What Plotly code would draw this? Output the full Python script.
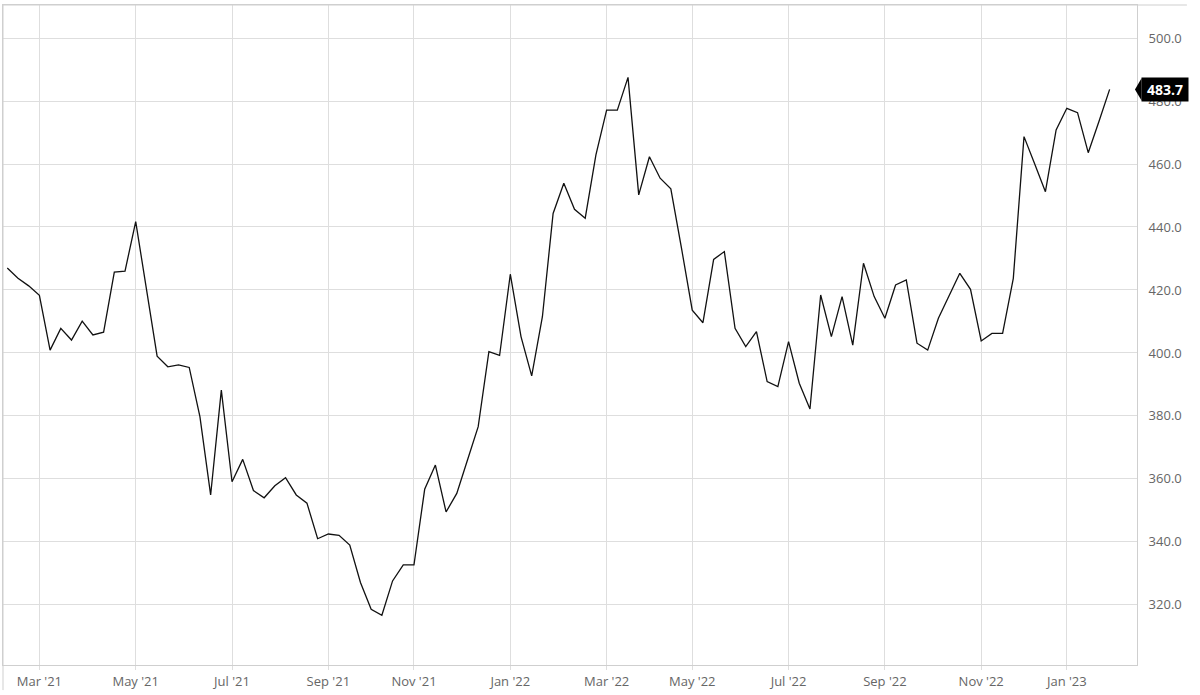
import pandas as pd
import plotly.graph_objects as go

# --------------------------------------------------
# Data (weekly closes)
# --------------------------------------------------

dates = pd.date_range("2021-02-08", periods=104, freq="7D")

values = [
    427.0, 423.7, 421.3, 418.3, 400.9, 407.8, 404.1, 410.1, 405.7, 406.6,
    425.7, 426.0, 441.7, 420.6, 399.0, 395.6, 396.2, 395.4, 379.8, 354.9,
    388.2, 359.1, 366.2, 356.3, 354.0, 357.8, 360.4, 354.9, 352.3, 341.0,
    342.5, 342.1, 339.0, 327.1, 318.6, 316.7, 327.6, 332.7, 332.7, 356.7,
    364.4, 349.5, 355.4, 366.0, 376.6, 400.4, 399.2, 425.0, 405.2, 392.7,
    411.5, 444.3, 453.9, 445.6, 442.8, 462.9, 477.1, 477.1, 487.5, 450.2,
    462.3, 455.5, 452.1, 433.2, 413.6, 409.6, 429.7, 432.2, 407.8, 402.0,
    406.8, 390.9, 389.3, 403.6, 390.4, 382.2, 418.4, 405.2, 417.9, 402.5,
    428.5, 417.9, 411.0, 421.6, 423.2, 403.1, 400.9, 411.0, 418.1, 425.3,
    420.2, 403.8, 406.2, 406.2, 423.7, 468.7, 460.0, 451.2, 470.8, 477.7,
    476.3, 463.6, 473.5, 483.7,
]

tick_dates = [
    "2021-03-01", "2021-05-03", "2021-07-05", "2021-09-06", "2021-11-01",
    "2022-01-03", "2022-03-07", "2022-05-02", "2022-07-04", "2022-09-05",
    "2022-11-07", "2023-01-02",
]
tick_labels = [
    "Mar '21", "May '21", "Jul '21", "Sep '21", "Nov '21", "Jan '22",
    "Mar '22", "May '22", "Jul '22", "Sep '22", "Nov '22", "Jan '23",
]
y_ticks = [320, 340, 360, 380, 400, 420, 440, 460, 480, 500]

last_value = values[-1]

GRID = "#dedede"
AXIS = "#cfcfcf"

# --------------------------------------------------
# Figure
# --------------------------------------------------

fig = go.Figure(
    go.Scatter(
        x=dates,
        y=values,
        mode="lines",
        line=dict(color="#111111", width=1.3),
        hoverinfo="x+y",
    )
)

# Last-value flag on the right axis
fig.add_shape(
    type="path",
    xref="paper",
    yref="y",
    path=(
        f"M 0.9982 {last_value} L 1.0040 {last_value + 3.5} "
        f"L 1.0040 {last_value - 3.5} Z"
    ),
    fillcolor="black",
    line=dict(width=0),
    layer="above",
)
fig.add_annotation(
    x=1.0035,
    y=last_value,
    xref="paper",
    yref="y",
    text=f"<b>{last_value:.1f}</b>",
    showarrow=False,
    xanchor="left",
    yanchor="middle",
    width=44,
    height=21,
    bgcolor="black",
    font=dict(color="white", size=14, family="Open Sans"),
)

# Frame lines running past the plot area
fig.add_shape(
    type="line", xref="paper", yref="paper",
    x0=0, x1=1.044, y0=1, y1=1,
    line=dict(color=AXIS, width=1),
)
fig.add_shape(
    type="line", xref="paper", yref="paper",
    x0=0, x1=0, y0=1, y1=-0.038,
    line=dict(color=AXIS, width=1),
)

fig.update_layout(
    width=1200,
    height=695,
    showlegend=False,
    margin=dict(l=3, r=63, t=5, b=30),
    plot_bgcolor="white",
    paper_bgcolor="white",
    font=dict(family="Open Sans", size=13, color="#666666"),
)

fig.update_xaxes(
    range=[dates[0] - pd.Timedelta(days=2.8), dates[-1] + pd.Timedelta(days=17.9)],
    tickvals=tick_dates,
    ticktext=tick_labels,
    ticks="outside",
    ticklen=4,
    tickcolor=GRID,
    showgrid=True,
    gridcolor=GRID,
    gridwidth=1,
    showline=True,
    linecolor=AXIS,
    mirror=True,
    zeroline=False,
    tickfont=dict(size=13, color="#666666"),
)

fig.update_yaxes(
    side="right",
    range=[300.9, 510.5],
    tickvals=y_ticks,
    tickformat=".1f",
    ticks="outside",
    ticklen=8,
    tickcolor="rgba(0,0,0,0)",
    showgrid=True,
    gridcolor=GRID,
    gridwidth=1,
    showline=True,
    linecolor=AXIS,
    mirror=True,
    zeroline=False,
    tickfont=dict(size=13, color="#666666"),
)

# page body has a default 8px margin; drop it so the figure sits at the corner
fig.write_html(
    "out.html",
    config={"displayModeBar": False},
    post_script="document.body.style.margin = '0';",
)
